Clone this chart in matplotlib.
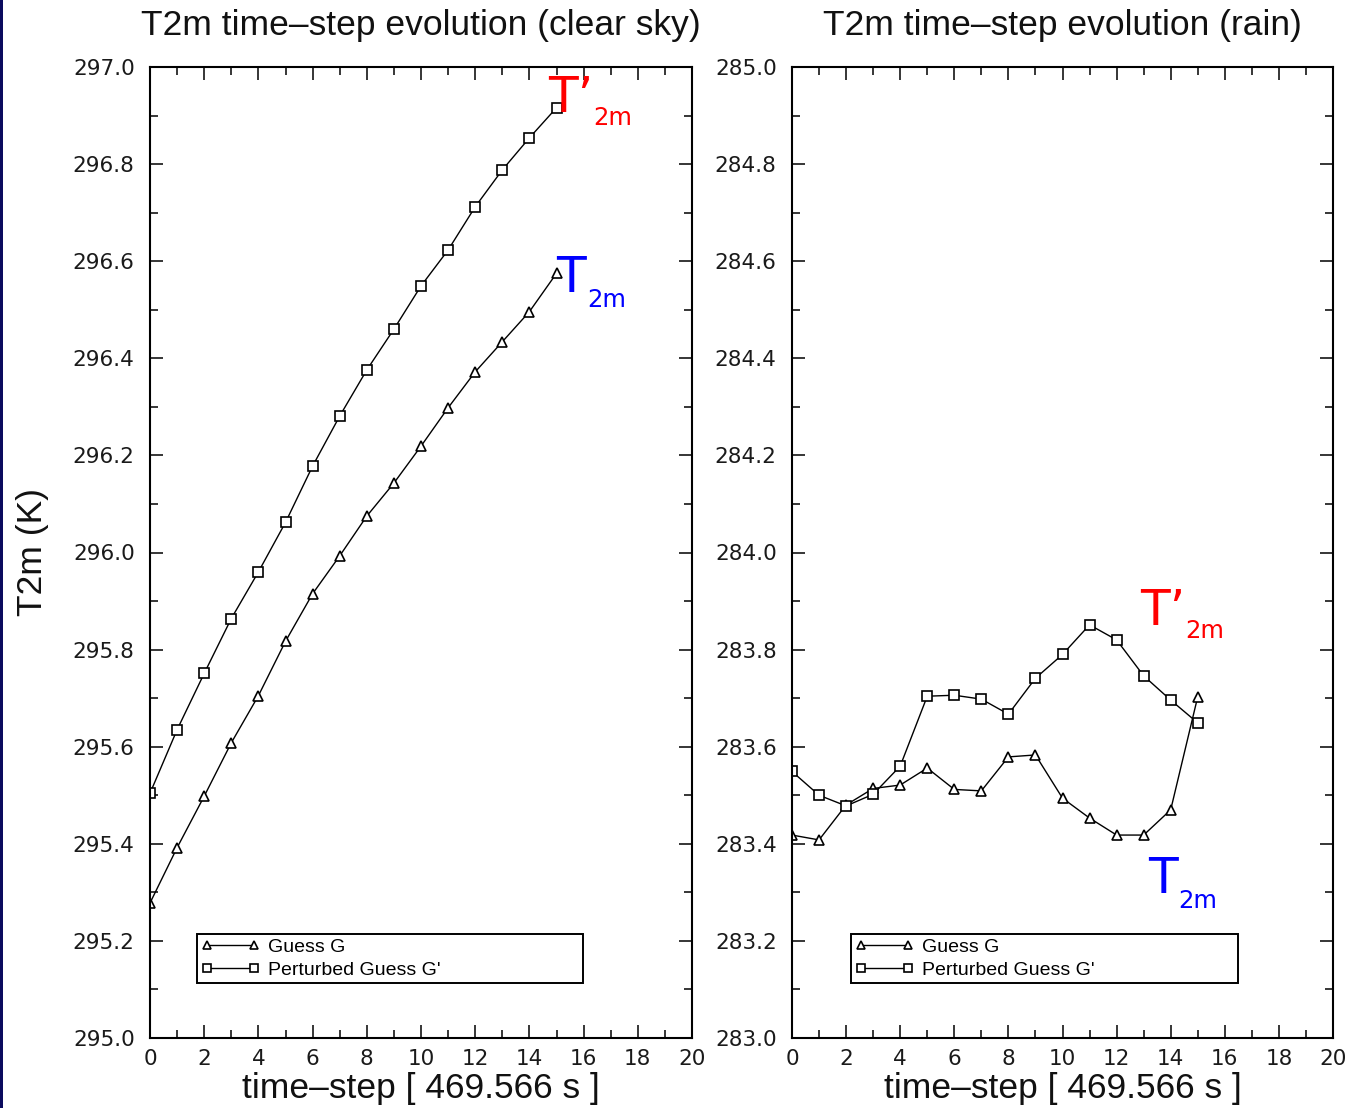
import matplotlib
matplotlib.use("Agg")
import matplotlib.pyplot as plt
from matplotlib.ticker import MultipleLocator, FormatStrFormatter
from matplotlib.patches import Rectangle

# time steps (each 469.566 s)
steps = list(range(16))

# clear sky case
clear_guess = [295.278, 295.392, 295.498, 295.608, 295.705, 295.817, 295.915, 295.993,
               296.075, 296.143, 296.219, 296.298, 296.372, 296.434, 296.496, 296.575]
clear_perturbed = [295.504, 295.635, 295.751, 295.864, 295.960, 296.062, 296.178, 296.281,
                   296.376, 296.460, 296.549, 296.623, 296.712, 296.788, 296.854, 296.916]

# rain case
rain_guess = [283.418, 283.408, 283.480, 283.514, 283.521, 283.556, 283.512, 283.509,
              283.579, 283.583, 283.494, 283.453, 283.418, 283.418, 283.470, 283.703]
rain_perturbed = [283.549, 283.500, 283.478, 283.502, 283.560, 283.704, 283.706, 283.698,
                  283.667, 283.741, 283.790, 283.851, 283.820, 283.746, 283.696, 283.649]

titles = ["T2m time\u2013step evolution (clear sky)", "T2m time\u2013step evolution (rain)"]
ylims = [(295.0, 297.0), (283.0, 285.0)]
xlabel = "time\u2013step [ 469.566 s ]"
ylabel = "T2m (K)"
legend_labels = ["Guess G", "Perturbed Guess G'"]

W, H = 1355, 1108
fig = plt.figure(figsize=(W / 100, H / 100), dpi=100)
fig.patch.set_facecolor("white")

# thin navy strip at the left border
fig.add_artist(Rectangle((0, 0), 2.5 / W, 1, transform=fig.transFigure,
                         facecolor="#0b0b5e", edgecolor="none"))

bottom = 1 - 1038 / H
height = (1038 - 67) / H
ax1 = fig.add_axes([150 / W, bottom, (692 - 150) / W, height])
ax2 = fig.add_axes([792 / W, bottom, (1333 - 792) / W, height])

label_font = "Liberation Sans"
legend_boxes = [(0.0867, 0.0566, 0.712, 0.0525), (0.109, 0.0566, 0.715, 0.0525)]

for ax, title, ylim, g, p, lbox in [
        (ax1, titles[0], ylims[0], clear_guess, clear_perturbed, legend_boxes[0]),
        (ax2, titles[1], ylims[1], rain_guess, rain_perturbed, legend_boxes[1])]:
    ax.plot(steps, g, color="black", lw=1.0, marker="^", ms=7.5, mfc="white",
            mec="black", mew=1.2, label=legend_labels[0])
    ax.plot(steps, p, color="black", lw=1.0, marker="s", ms=7.5, mfc="white",
            mec="black", mew=1.2, label=legend_labels[1])
    ax.set_xlim(0, 20)
    ax.set_ylim(*ylim)
    ax.xaxis.set_major_locator(MultipleLocator(2))
    ax.xaxis.set_minor_locator(MultipleLocator(1))
    ax.yaxis.set_major_locator(MultipleLocator(0.2))
    ax.yaxis.set_minor_locator(MultipleLocator(0.1))
    ax.yaxis.set_major_formatter(FormatStrFormatter("%.1f"))
    ax.xaxis.set_major_formatter(FormatStrFormatter("%d"))
    ax.tick_params(which="both", direction="in", top=True, right=True, width=1.1,
                   color="black")
    ax.tick_params(which="major", length=9.5)
    ax.tick_params(which="minor", length=6)
    ax.tick_params(axis="y", pad=11)
    ax.tick_params(axis="x", pad=8)
    for lab in ax.get_xticklabels() + ax.get_yticklabels():
        lab.set_fontfamily("DejaVu Sans")
        lab.set_fontsize(15.5)
        lab.set_color("#1a1a1a")
    for s in ax.spines.values():
        s.set_linewidth(1.5)
    ax.set_title(title, fontsize=25.5, family=label_font, pad=23, color="#111111")
    ax.set_xlabel(xlabel, fontsize=25.5, family=label_font, labelpad=2, color="#111111")
    leg = ax.legend(loc="lower left", bbox_to_anchor=lbox,
                    mode="expand", numpoints=2, handlelength=3.0, handletextpad=0.45,
                    borderpad=0.22, labelspacing=0.25, fancybox=False,
                    framealpha=1, edgecolor="black", borderaxespad=0,
                    prop=dict(family="Liberation Sans", size=14))
    leg.get_frame().set_linewidth(1.4)
    for h in leg.legend_handles:
        h.set_markersize(6)

ax1.set_ylabel(ylabel, fontsize=25.5, family=label_font, labelpad=17, color="#111111")

# curve annotations
ann = dict(family="DejaVu Sans", va="baseline", ha="left", clip_on=False)
ax1.text(14.69, 296.908, "T\u2019", color="red", fontsize=35, **ann)
ax1.text(16.35, 296.880, "2m", color="red", fontsize=17.5, **ann)
ax1.text(14.98, 296.537, "T", color="blue", fontsize=35, **ann)
ax1.text(16.12, 296.505, "2m", color="blue", fontsize=17.5, **ann)

ax2.text(12.87, 283.851, "T\u2019", color="red", fontsize=35, **ann)
ax2.text(14.53, 283.823, "2m", color="red", fontsize=17.5, **ann)
ax2.text(13.16, 283.299, "T", color="blue", fontsize=35, **ann)
ax2.text(14.27, 283.268, "2m", color="blue", fontsize=17.5, **ann)

fig.savefig("out.png", dpi=100, facecolor="white")
